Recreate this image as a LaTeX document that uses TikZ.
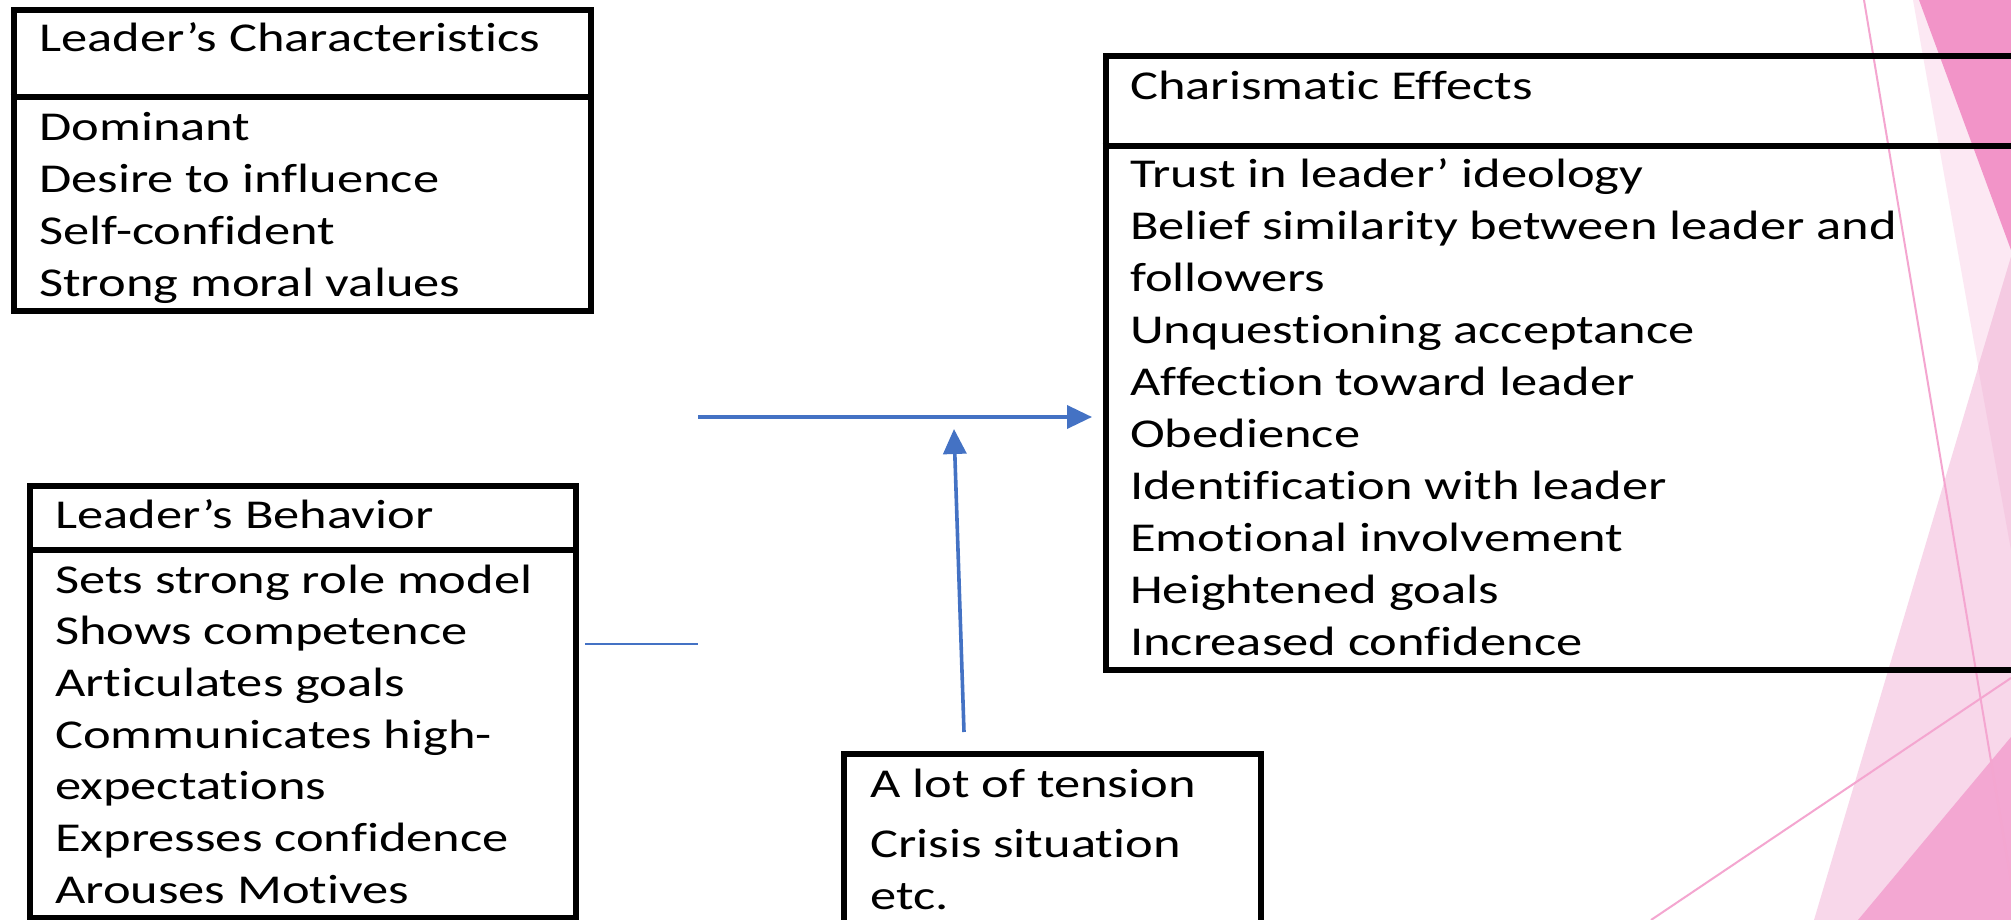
\documentclass[tikz,border=0pt]{standalone}
\usepackage{fontspec}
\setmainfont{Carlito}[FakeStretch=1.28,Ligatures={NoCommon,NoContextual}]
\usetikzlibrary{arrows.meta}
\definecolor{pinkA}{HTML}{FCE8F3}
\definecolor{pinkB}{HTML}{F294C8}
\definecolor{pinkC}{HTML}{F8D7EA}
\definecolor{pinkAC}{HTML}{F5CAE2}
\definecolor{pinkD}{HTML}{F3A7D2}
\definecolor{pinkLine}{HTML}{F4A6D0}
\definecolor{arrowblue}{HTML}{4472C4}
\tikzset{
  boxst/.style={draw=black, line width=6pt, rectangle, inner sep=0pt},
  divider/.style={draw=black, line width=6pt},
  txt/.style={anchor=base west, inner sep=0pt, font=\fontsize{41}{51.7}\selectfont},
  bluearrow/.style={draw=arrowblue, line width=3.6pt, -{Triangle[length=25pt,width=23pt]}},
  bluethin/.style={draw=arrowblue, line width=1.8pt},
  pinkthin/.style={draw=pinkLine, line width=2pt}
}
\begin{document}
\begin{tikzpicture}[x=1pt,y=-1pt]
\useasboundingbox (0,0) rectangle (2011,920);
\fill[white] (0,0) rectangle (2011,920);
\begin{scope}
\clip (0,0) rectangle (2011,920);
% background facets
\fill[pinkA] (1913,0) -- (2011,0) -- (2011,550) -- cycle;
\fill[pinkC] (2011,257) -- (1814,920) -- (2011,920) -- cycle;
\fill[pinkAC] (2011,257) -- (1978,367) -- (2011,550) -- cycle;
\fill[pinkD] (1858,920) -- (2011,737) -- (2011,920) -- cycle;
\fill[pinkB] (1919,0) -- (2011,0) -- (2011,250) -- cycle;
\coordinate (la1) at (1864,0);
\coordinate (la2) at (2015,905);
\coordinate (lb1) at (1651,920);
\coordinate (lb2) at (2011,678);
\draw[pinkthin] (la1) -- (la2);
\draw[pinkthin] (lb1) -- (lb2);
% boxes
\node[boxst, minimum width=577pt, minimum height=300pt] (box1) at (302,160.5) {};
\draw[divider] (box1.west |- 0,97.5) -- (box1.east |- 0,97.5);
\node[boxst, minimum width=545.5pt, minimum height=432pt] (box2) at (302.75,701.5) {};
\draw[divider] (box2.west |- 0,549.5) -- (box2.east |- 0,549.5);
\node[boxst, minimum width=924.5pt, minimum height=614pt] (box3) at (1567.75,363) {};
\draw[divider] (box3.west |- 0,146) -- (box3.east |- 0,146);
\node[boxst, minimum width=416.5pt, minimum height=186pt] (box4) at (1052.25,847) {};
\end{scope}
% texts
\node[txt] (t1) at (39,52) {Leader’s Characteristics};
\foreach \t [count=\i] in {Dominant, Desire to influence, Self-confident, Strong moral values}
  \node[txt] (c\i) at (39,{141+51.7*(\i-1)}) {\t};
\node[txt] (t2) at (55,528) {Leader’s Behavior};
\foreach \t [count=\i] in {Sets strong role model, Shows competence, Articulates goals, Communicates high-, expectations, Expresses confidence, Arouses Motives}
  \node[txt] (b\i) at (55,{593+51.7*(\i-1)}) {\t};
\node[txt] (t3) at (1130,100) {Charismatic Effects};
\foreach \t [count=\i] in {Trust in leader’ ideology, Belief similarity between leader and, followers, Unquestioning acceptance, Affection toward leader, Obedience, Identification with leader, Emotional involvement, Heightened goals, Increased confidence}
  \node[txt] (e\i) at (1130,{188+51.9*(\i-1)}) {\t};
\node[txt] (s1) at (870,797) {A lot of tension};
\node[txt] (s2) at (870,857) {Crisis situation};
\node[txt] (s3) at (870,909) {etc.};
% connectors
\coordinate (hstart) at (698,417);
\coordinate (hend) at (1092,417);
\coordinate (vstart) at (964,732);
\coordinate (vend) at (954,429);
\coordinate (sstart) at (585,644);
\coordinate (send) at (698,644);
\draw[bluearrow] (hstart) -- (hend);
\draw[bluearrow] (vstart) -- (vend);
\draw[bluethin] (sstart) -- (send);
\end{tikzpicture}
\end{document}
